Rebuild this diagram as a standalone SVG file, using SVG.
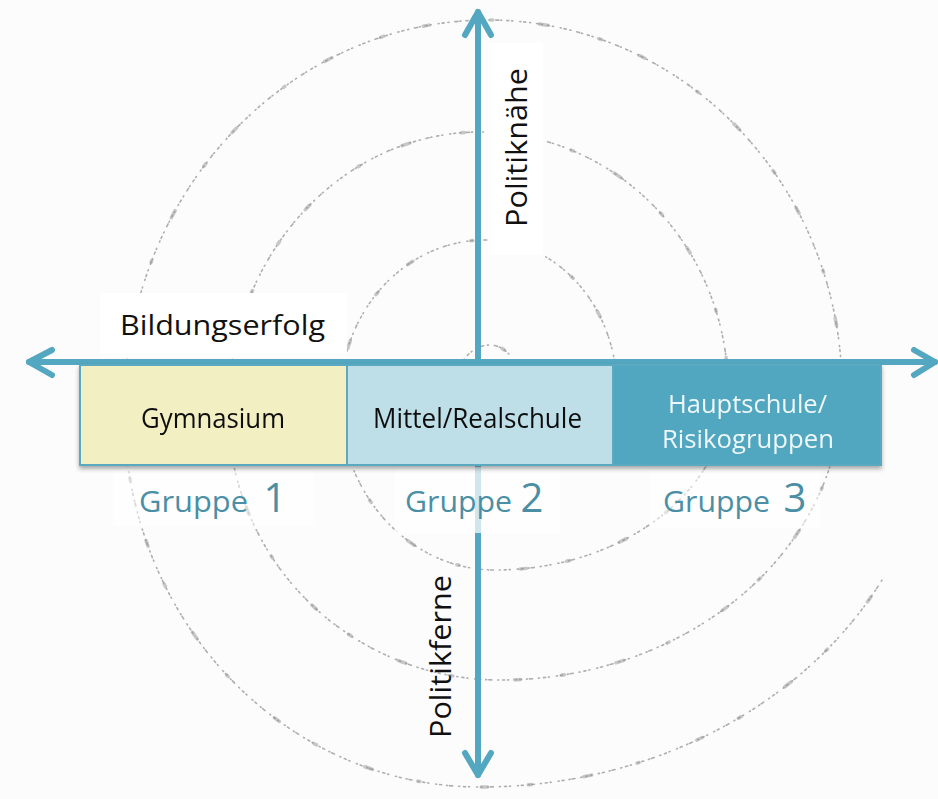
<svg xmlns="http://www.w3.org/2000/svg" width="938" height="799" viewBox="0 0 938 799">
  <defs>
    <style>
      .spiral { fill: none; stroke: #9a9a9a; stroke-linecap: round; }
      .axis { fill: none; stroke: #54a7c0; stroke-width: 6; stroke-linecap: round; stroke-linejoin: round; }
      .lbl { font-family: "Open Sans", "Noto Sans", "Liberation Sans", sans-serif; }
      .dark { fill: #111111; }
      .grp { fill: #4a8fa5; }
      .bg { fill: #ffffff; }
    </style>
    <filter id="shadow" x="-5%" y="-10%" width="110%" height="130%">
      <feDropShadow dx="0" dy="3" stdDeviation="2" flood-color="#444444" flood-opacity="0.45"/>
    </filter>
    <path id="spiralPath" d="M 522 392 A 32 47 0 0 0 490 345 A 36 47 0 0 0 454 392 A 41 68 0 0 0 495 460 A 122 70 0 0 0 617 390 A 132 150 0 0 0 485 240 A 145 160 0 0 0 340 400 A 155 170 0 0 0 495 570 A 233 180 0 0 0 728 390 A 248 258 0 0 0 480 132 A 252 278 0 0 0 228 410 A 272 270 0 0 0 500 680 A 342 290 0 0 0 842 390 A 354 370 0 0 0 488 20 A 364 390 0 0 0 124 410 A 356 377 0 0 0 480 787 A 454 387 0 0 0 882 580"/>
  </defs>

  <rect x="0" y="0" width="938" height="799" fill="#fcfcfc"/>

  <g id="spiral">
    <use href="#spiralPath" class="spiral" stroke-width="1.6" stroke-dasharray="1 3 2 5 1 2 3 6 1 4 2 3 1 7" opacity="0.8"/>
    <use href="#spiralPath" class="spiral" stroke-width="3.5" stroke-dasharray="6 41 3 53 8 47 2 62" opacity="0.55"/>
  </g>

  <g id="label-bgs">
    <rect class="bg" x="100" y="293" width="247" height="64"/>
    <rect class="bg" x="488" y="43" width="55" height="212"/>
    <rect class="bg" x="113" y="470" width="200" height="56" opacity="0.5"/>
    <rect class="bg" x="650" y="470" width="170" height="58" opacity="0.5"/>
  </g>

  <g id="connectors">
    <g id="axis-vertical">
      <line class="axis" x1="478" y1="12" x2="478" y2="362"/>
      <polyline class="axis" points="465,35 478,12 491,35"/>
      <line class="axis" x1="478" y1="465" x2="478" y2="775"/>
      <polyline class="axis" points="465,753 478,775 491,753"/>
    </g>
    <g id="axis-horizontal">
      <line class="axis" x1="29" y1="362" x2="935" y2="362"/>
      <polyline class="axis" points="52,350 29,362 52,375"/>
      <polyline class="axis" points="914,350 935,362 914,375"/>
    </g>
  </g>

  <g id="gruppe2-bg-overlay">
    <rect class="bg" x="395" y="467" width="165" height="66" opacity="0.72"/>
  </g>

  <g id="boxes" filter="url(#shadow)">
    <g id="box-gymnasium">
      <rect x="80" y="365" width="267" height="100" fill="#f2efc2" stroke="#5aa9c0" stroke-width="2"/>
      <text class="lbl dark" x="141" y="428" font-size="27.5" textLength="144" lengthAdjust="spacingAndGlyphs">Gymnasium</text>
    </g>
    <g id="box-mittel">
      <rect x="347" y="365" width="266" height="100" fill="#bfdfe8" stroke="#5aa9c0" stroke-width="2"/>
      <text class="lbl dark" x="373" y="428" font-size="27.5" textLength="209" lengthAdjust="spacingAndGlyphs">Mittel/Realschule</text>
    </g>
    <g id="box-haupt">
      <rect x="613" y="365" width="268" height="100" fill="#51a7bf" stroke="#5aa9c0" stroke-width="2"/>
      <text class="lbl" fill="#eef7f9" x="668" y="413" font-size="25" textLength="159" lengthAdjust="spacingAndGlyphs">Hauptschule/</text>
      <text class="lbl" fill="#eef7f9" x="662" y="448" font-size="25" textLength="172" lengthAdjust="spacingAndGlyphs">Risikogruppen</text>
    </g>
  </g>

  <g id="label-bildungserfolg">
    <text class="lbl dark" x="120" y="335" font-size="28" textLength="205" lengthAdjust="spacingAndGlyphs">Bildungserfolg</text>
  </g>
  <g id="label-politiknaehe">
    <text class="lbl dark" transform="translate(527,227) rotate(-90)" font-size="29" textLength="159" lengthAdjust="spacingAndGlyphs">Politiknähe</text>
  </g>
  <g id="label-politikferne">
    <text class="lbl dark" transform="translate(451,738) rotate(-90)" font-size="29" textLength="163" lengthAdjust="spacingAndGlyphs">Politikferne</text>
  </g>

  <g id="gruppe1">
    <text class="lbl grp" x="139" y="512" font-size="30" textLength="109" lengthAdjust="spacingAndGlyphs">Gruppe</text>
    <text class="lbl grp" x="275" y="512" font-size="40" text-anchor="middle">1</text>
  </g>
  <g id="gruppe2">
    <text class="lbl grp" x="405" y="512" font-size="30" textLength="107" lengthAdjust="spacingAndGlyphs">Gruppe</text>
    <text class="lbl grp" x="532" y="512" font-size="40" text-anchor="middle">2</text>
  </g>
  <g id="gruppe3">
    <text class="lbl grp" x="663" y="512" font-size="30" textLength="107" lengthAdjust="spacingAndGlyphs">Gruppe</text>
    <text class="lbl grp" x="795" y="512" font-size="40" text-anchor="middle">3</text>
  </g>
</svg>
